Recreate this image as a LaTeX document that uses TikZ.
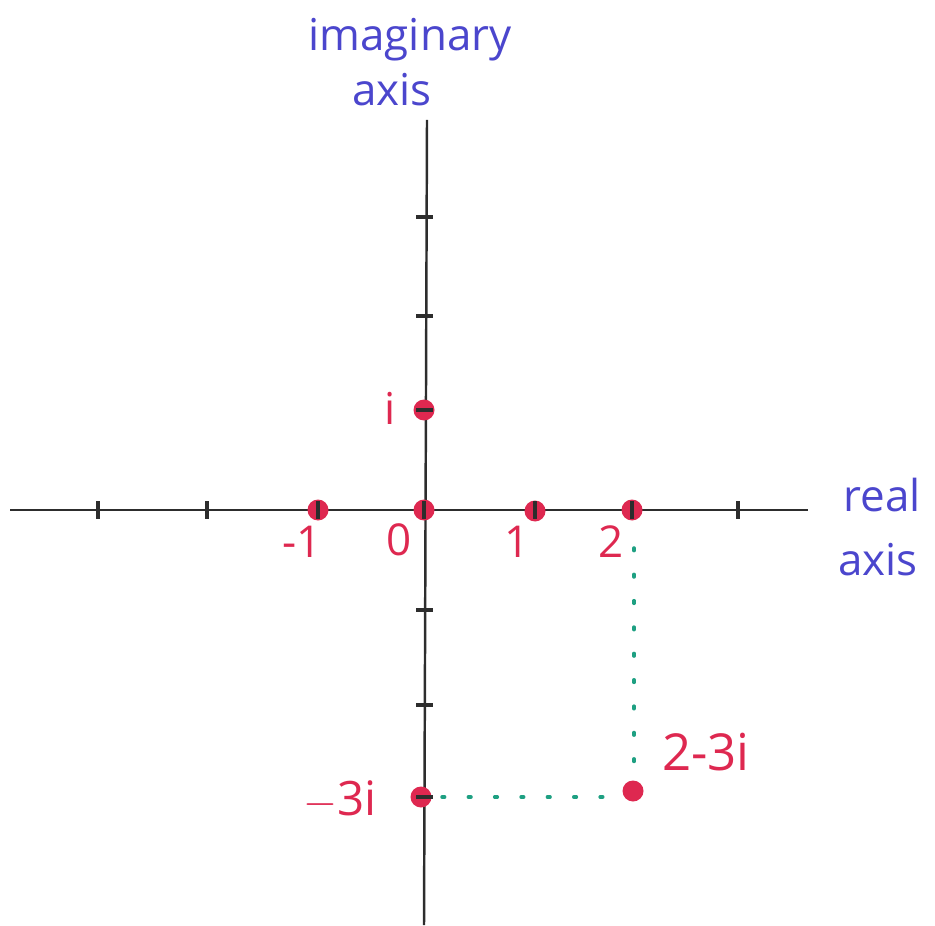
\documentclass[tikz,border=0pt]{standalone}
\usepackage{fontspec}
\setmainfont{Open Sans}
\definecolor{axisblue}{RGB}{75,70,205}
\definecolor{ptred}{RGB}{222,40,80}
\definecolor{dotgreen}{RGB}{30,160,130}
\definecolor{axgray}{RGB}{45,45,45}
\begin{document}
\begin{tikzpicture}[x=0.02cm,y=-0.02cm,
  axisline/.style={draw=axgray,line width=1.4pt},
  tickmark/.style={draw=axgray,line width=1.9pt},
  ptdot/.style={circle,fill=ptred,inner sep=0pt,minimum size=0.42cm},
  bluelab/.style={text=axisblue,font=\fontsize{25}{28}\selectfont,inner sep=0pt},
  redlab/.style={text=ptred,font=\fontsize{25}{28}\selectfont,inner sep=0pt},
  greendots/.style={draw=dotgreen,line width=2pt,dash pattern=on 1.5pt off 13.5pt,line cap=round}]
\useasboundingbox (0,0) rectangle (935,925);
% axes
\coordinate (xl) at (10,510);
\coordinate (xr) at (808,510);
\coordinate (yt) at (427,120);
\coordinate (yb) at (424,925);
\draw[axisline] (xl) -- (xr);
\draw[axisline] (yt) -- (yb);
% points
\node[ptdot] (pi) at (424,410) {};
\node[ptdot] (pm1) at (318,510) {};
\node[ptdot] (p0) at (424,510) {};
\node[ptdot] (p1) at (535,511) {};
\node[ptdot] (p2) at (632,510) {};
\node[ptdot] (pm3i) at (421,797) {};
\node[ptdot] (pz) at (633,791) {};
% x ticks
\foreach \x in {98,207,318,424,535,632,738}
  \draw[tickmark] (\x,501) -- (\x,519);
% y ticks
\foreach \y in {217,316,410,610,705,797}
  \draw[tickmark] (416,\y) -- (433,\y);
% green dotted projections
\coordinate (g1) at (634,548);
\coordinate (g2) at (634,772);
\coordinate (g3) at (442,797);
\coordinate (g4) at (612,797);
\draw[greendots] (g1) -- (g2);
\draw[greendots] (g3) -- (g4);
% axis labels
\node[bluelab] (imlab1) at (410,40) {imaginary};
\node[bluelab] (imlab2) at (392,90) {axis};
\node[bluelab] (relab1) at (882,495) {real};
\node[bluelab] (relab2) at (878,560) {axis};
% point labels
\node[redlab] (li) at (390,408) {i};
\node[redlab] (lm1) at (302,542) {-1};
\node[redlab] (l0) at (399,540) {0};
\node[redlab] (l1) at (517,542) {1};
\node[redlab] (l2) at (611,542) {2};
\node[redlab,font=\fontsize{29}{30}\selectfont] (lz) at (706,752) {2-3i};
\node[redlab,font=\fontsize{27}{30}\selectfont] (lm3i) at (340,800) {$-$3i};
\end{tikzpicture}
\end{document}
